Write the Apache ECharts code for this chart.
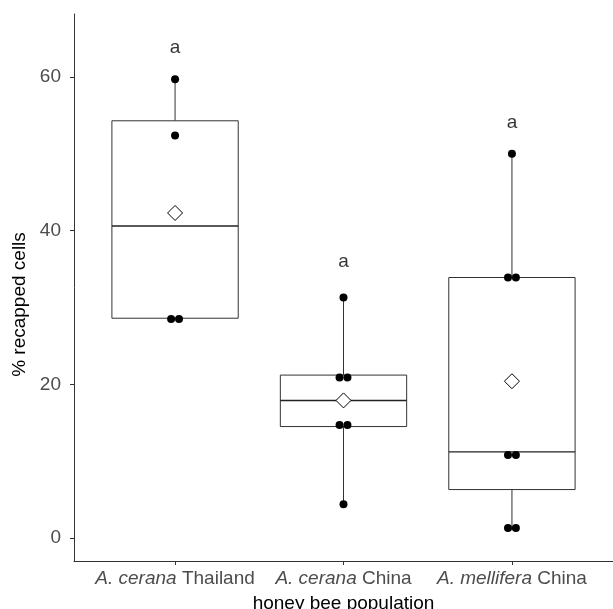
<!DOCTYPE html>
<html>
<head>
    <meta charset="utf-8" />
    <title>recapped cells</title>
    <script src="https://cdn.jsdelivr.net/npm/echarts@6/dist/echarts.min.js"></script>
    <style>
        html, body { margin: 0; padding: 0; background: #fff; }
        #chart { width: 613px; height: 609px; }
    </style>
</head>
<body>
    <div id="chart"></div>

    <script>
        // categories (italic species + plain region)
        var speciesNames = ["A. cerana", "A. cerana", "A. mellifera"];
        var regionNames = ["Thailand", "China", "China"];

        // box stats per group: [whisker low, Q1, median, Q3, whisker high]
        var boxThailand = [28.5, 28.6, 40.6, 54.3, 59.7];
        var boxCeranaChina = [4.4, 14.5, 17.9, 21.2, 31.3];
        var boxMellifera = [1.0, 6.3, 11.2, 33.9, 50.0];

        // raw observations per group
        var ptsThailand = [59.7, 52.4, 28.5, 28.5];
        var ptsCeranaChina = [31.3, 20.9, 20.9, 14.7, 14.7, 4.4];
        var ptsMellifera = [50.0, 33.9, 33.9, 10.8, 10.8, 1.3, 1.3];

        // group means (diamonds)
        var means = [42.3, 17.9, 20.4];

        // significance letters and their height
        var letters = ["a", "a", "a"];
        var letterY = [63.8, 36.0, 54.1];

        var yTicks = [0, 20, 40, 60];

        var boxes = [boxThailand, boxCeranaChina, boxMellifera];
        var pts = [ptsThailand, ptsCeranaChina, ptsMellifera];

        var boxData = boxes.map(function (b, i) { return [i + 1].concat(b); });

        // side by side dodge for tied values
        var pointData = [];
        pts.forEach(function (arr, i) {
            var counts = {};
            arr.forEach(function (v) { counts[v] = (counts[v] || 0) + 1; });
            var seen = {};
            arr.forEach(function (v) {
                var n = counts[v];
                var k = seen[v] || 0;
                seen[v] = k + 1;
                var off = (k - (n - 1) / 2) * 0.047;
                pointData.push([i + 1 + off, v]);
            });
        });
        var meanData = means.map(function (m, i) { return [i + 1, m]; });
        var letterData = letters.map(function (l, i) { return { value: [i + 1, letterY[i]], name: l }; });

        var lineCol = "#333333";

        function renderBox(params, api) {
            var x = api.value(0);
            var half = 0.375;
            var lo = api.coord([x, api.value(1)]);
            var q1 = api.coord([x, api.value(2)]);
            var md = api.coord([x, api.value(3)]);
            var q3 = api.coord([x, api.value(4)]);
            var hi = api.coord([x, api.value(5)]);
            var left = api.coord([x - half, 0])[0];
            var right = api.coord([x + half, 0])[0];
            var st = { stroke: lineCol, lineWidth: 1, fill: null };
            return {
                type: "group",
                children: [
                    { type: "line", shape: { x1: hi[0], y1: hi[1], x2: q3[0], y2: q3[1] }, style: st },
                    { type: "line", shape: { x1: q1[0], y1: q1[1], x2: lo[0], y2: lo[1] }, style: st },
                    { type: "rect", shape: { x: left, y: q3[1], width: right - left, height: q1[1] - q3[1] },
                      style: { stroke: lineCol, lineWidth: 1, fill: "#fff" } },
                    { type: "line", shape: { x1: left, y1: md[1], x2: right, y2: md[1] },
                      style: { stroke: "#222", lineWidth: 1.4 } }
                ]
            };
        }

        var chart = echarts.init(document.getElementById("chart"));
        chart.setOption({
            animation: false,
            backgroundColor: "#fff",
            textStyle: { fontFamily: "Liberation Sans, Arial, sans-serif" },
            grid: { left: 74, right: 0, top: 14, bottom: 48, outerBoundsMode: "none", containLabel: false },
            xAxis: {
                type: "value",
                min: 0.4,
                max: 3.6,
                name: "honey bee population",
                nameLocation: "middle",
                nameGap: 33,
                nameTextStyle: { fontSize: 19, color: "#000" },
                axisLine: { show: true, onZero: false, lineStyle: { color: lineCol, width: 1 } },
                axisTick: { show: true, length: 4, customValues: [1, 2, 3], lineStyle: { color: lineCol } },
                splitLine: { show: false },
                axisLabel: {
                    customValues: [1, 2, 3],
                    margin: 8,
                    fontSize: 19,
                    color: "#4d4d4d",
                    formatter: function (v) {
                        var i = Math.round(v) - 1;
                        return "{i|" + speciesNames[i] + "} {n|" + regionNames[i] + "}";
                    },
                    rich: {
                        i: { fontStyle: "italic", fontSize: 19, color: "#4d4d4d" },
                        n: { fontSize: 19, color: "#4d4d4d" }
                    }
                }
            },
            yAxis: {
                type: "value",
                min: -3.0,
                max: 68.2,
                name: "% recapped cells",
                nameLocation: "middle",
                nameGap: 45,
                nameTextStyle: { fontSize: 19, color: "#000", padding: [0, 34, 0, 0] },
                axisLine: { show: true, onZero: false, lineStyle: { color: lineCol, width: 1 } },
                axisTick: { show: true, length: 4, customValues: yTicks, lineStyle: { color: lineCol } },
                splitLine: { show: false },
                axisLabel: { customValues: yTicks, margin: 13, fontSize: 19, color: "#4d4d4d" }
            },
            series: [
                {
                    type: "custom",
                    renderItem: renderBox,
                    data: boxData,
                    encode: { x: 0, y: [1, 2, 3, 4, 5] },
                    z: 1
                },
                {
                    type: "scatter",
                    data: pointData,
                    symbol: "circle",
                    symbolSize: 8,
                    itemStyle: { color: "#000", opacity: 1 },
                    z: 3
                },
                {
                    type: "scatter",
                    data: meanData,
                    symbol: "diamond",
                    symbolSize: [15, 15],
                    itemStyle: { color: "#fff", borderColor: "#000", borderWidth: 1, opacity: 1 },
                    z: 4
                },
                {
                    type: "scatter",
                    data: letterData,
                    symbolSize: 0,
                    label: {
                        show: true,
                        position: "inside",
                        formatter: "{b}",
                        fontSize: 19,
                        color: "#000"
                    },
                    z: 5
                }
            ]
        });
    </script>
</body>
</html>
